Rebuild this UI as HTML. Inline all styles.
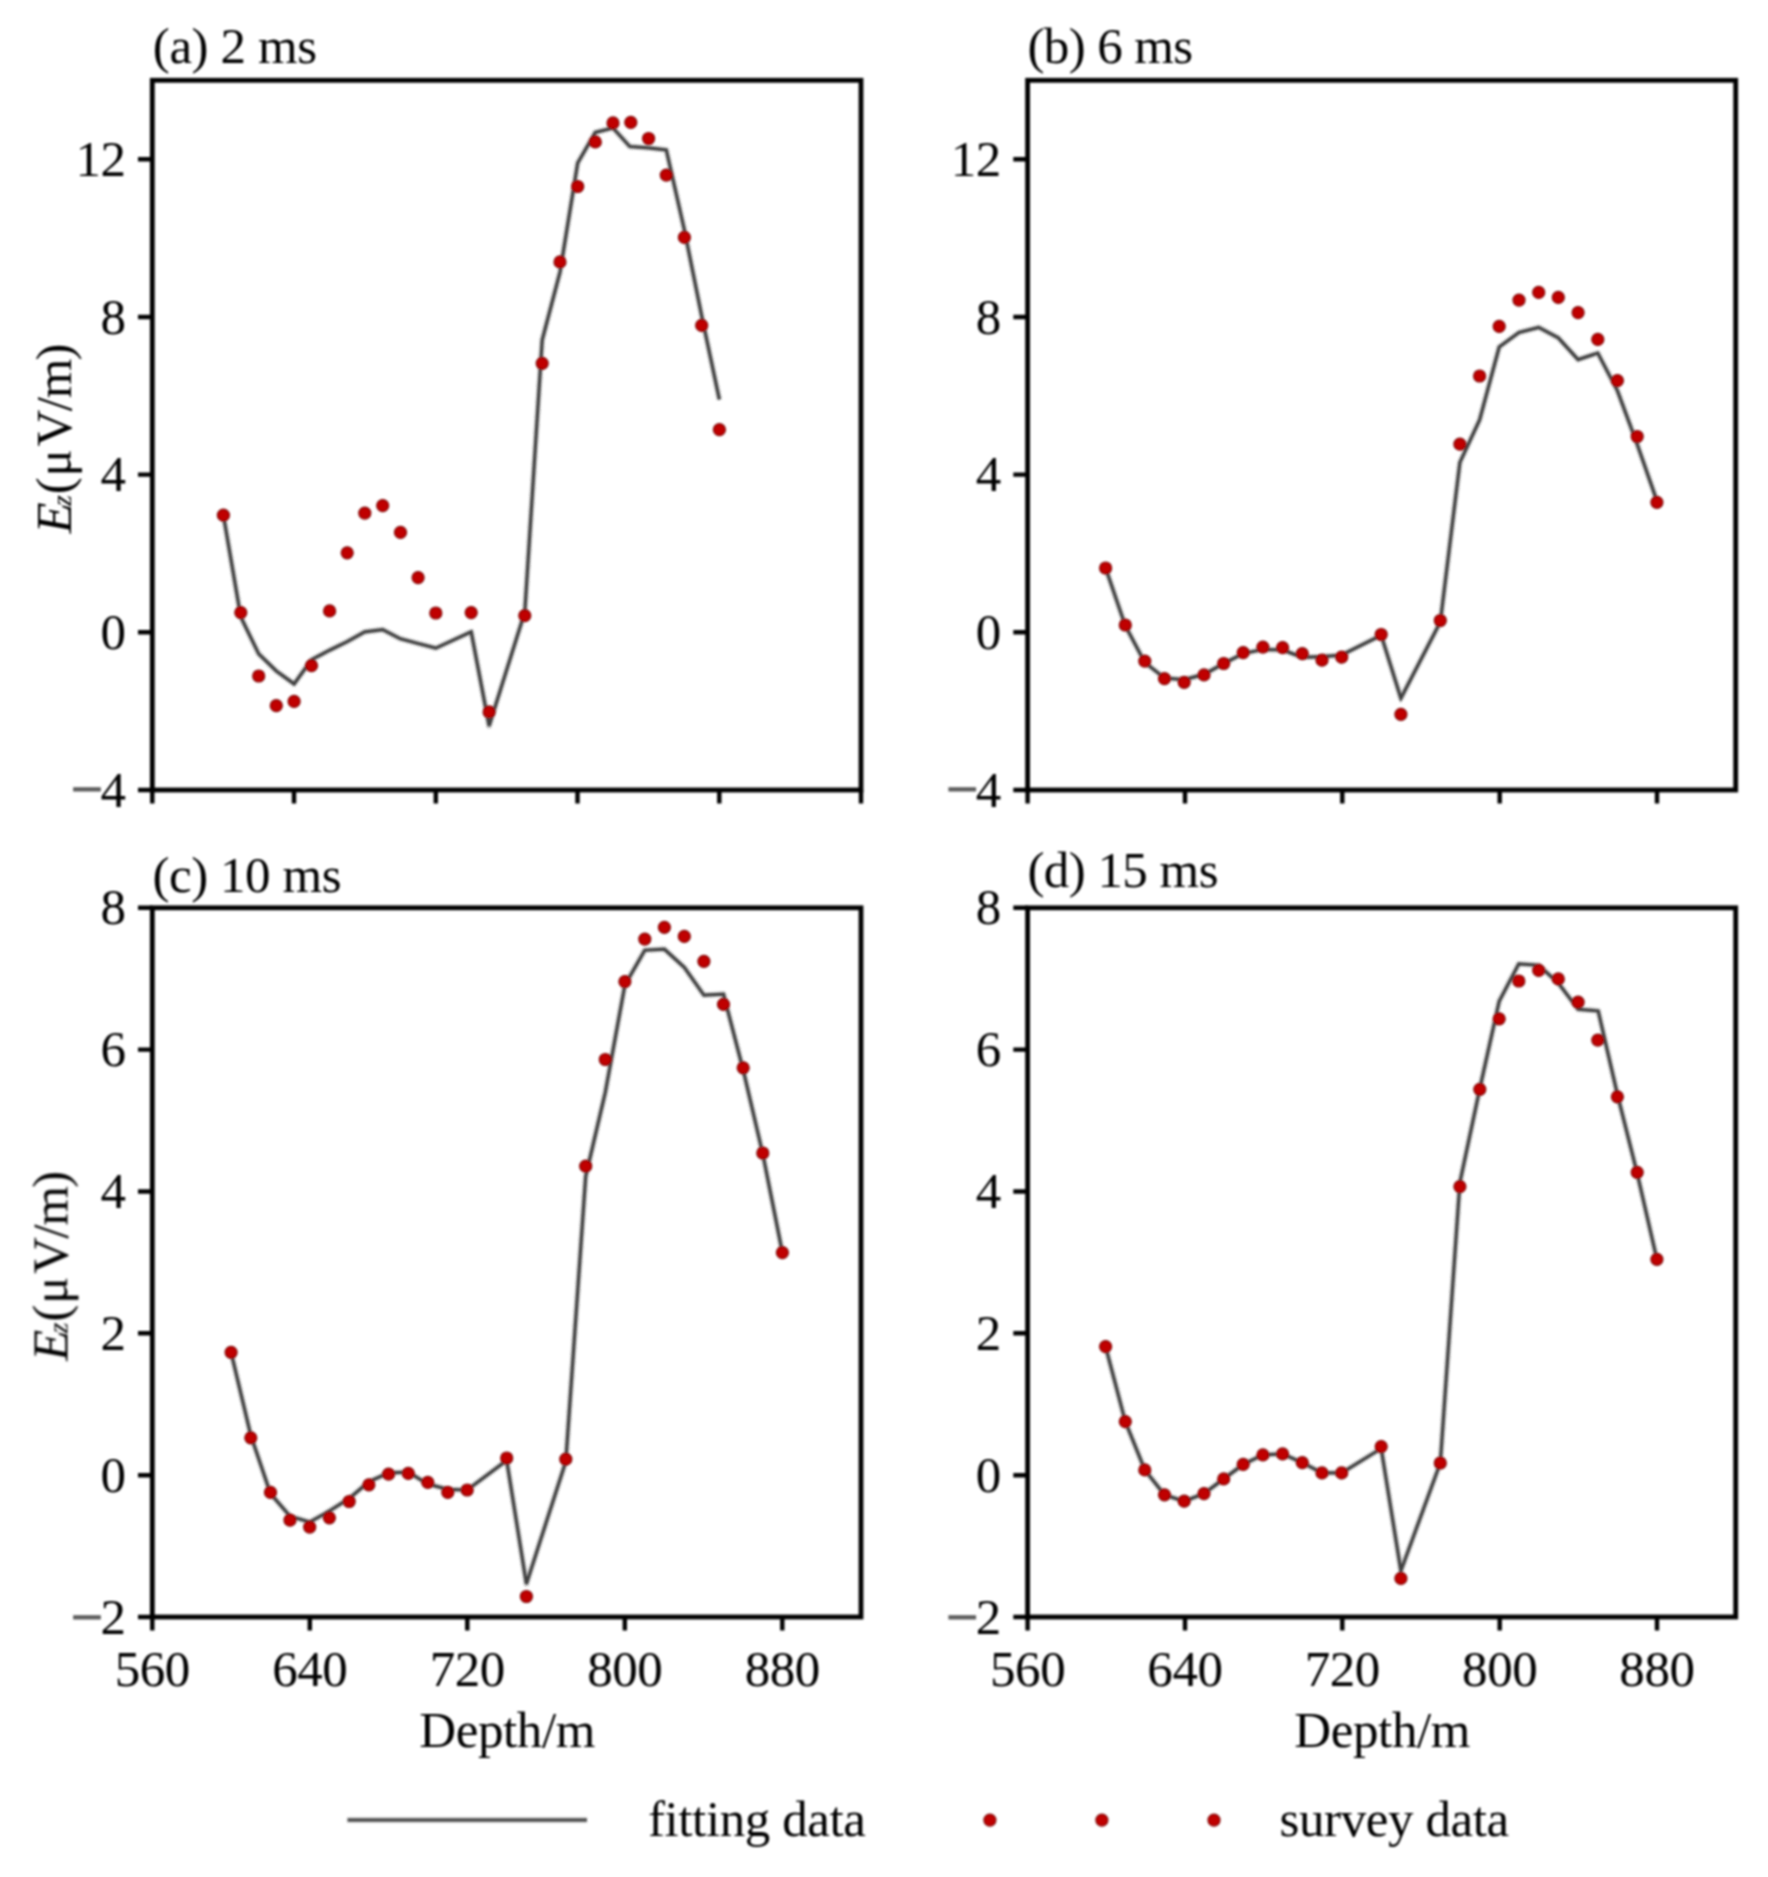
<!DOCTYPE html>
<html lang="en"><head><meta charset="utf-8"><title>Ez fitting vs survey data</title>
<style>
html,body{margin:0;padding:0;background:#fff;}
body{width:1768px;height:1877px;overflow:hidden;}
svg{display:block;position:absolute;left:0;top:0;}
text{font-family:"Liberation Serif","Times New Roman",serif;font-size:51px;fill:#000;letter-spacing:-0.4px;}
.ax{fill:none;stroke:#000;stroke-width:4.8;stroke-linejoin:miter;}
.tk{stroke:#000;stroke-width:4.4;fill:none;}
.ln{fill:none;stroke:#404040;stroke-width:3.2;stroke-linejoin:miter;stroke-linecap:butt;}
.lh{fill:none;stroke:#222;stroke-opacity:0.22;stroke-width:5.8;stroke-linejoin:round;}
.mn{fill:#5a5a5a;stroke:#5a5a5a;stroke-width:1.3;font-size:56.6px;}
.dt{fill:#c00000;stroke:#7a0000;stroke-width:1.2;}
</style></head><body>
<svg width="1768" height="1877" viewBox="0 0 1768 1877">
<rect width="1768" height="1877" fill="#fff"/>
<defs><filter id="soft" x="0" y="0" width="1768" height="1877" filterUnits="userSpaceOnUse"><feGaussianBlur stdDeviation="1.0"/></filter></defs>
<g filter="url(#soft)">

<g id="panel-a">
<rect class="ax" x="152.3" y="80.3" width="708.7" height="709.7"/>
<path class="tk" d="M152.3 790 v13.5 M294 790 v13.5 M435.8 790 v13.5 M577.5 790 v13.5 M719.3 790 v13.5 M861 790 v13.5 M152.3 790 h-14.3 M152.3 632.3 h-14.3 M152.3 474.6 h-14.3 M152.3 317 h-14.3 M152.3 159.3 h-14.3"/>
<text x="123.6" y="806.6" text-anchor="end"><tspan class="mn" dx="2.0" dy="1.5">−</tspan><tspan dx="-2.0" dy="-1.5">4</tspan></text>
<text x="125.6" y="648.9" text-anchor="end">0</text>
<text x="125.6" y="491.2" text-anchor="end">4</text>
<text x="125.6" y="333.6" text-anchor="end">8</text>
<text x="125.6" y="175.9" text-anchor="end">12</text>
<text x="152.8" y="63.2" style="letter-spacing:-0.4px">(a) 2 ms</text>
<polyline class="lh" points="223.4,515.2 240.8,617 258.7,653.9 276.3,671 294.1,683.9 311.5,659.7 329.6,650.2 347.2,641.6 364.8,631.9 382.7,629.6 400.5,638.8 418.1,643.5 435.8,648.1 471.2,631.9 489.1,725.9 524.8,612 542.2,340 560,272.1 577.7,163 595.3,132.4 613,128 629.8,146.5 648.6,147.9 666.3,149.9 684.4,230 701.7,316 719.4,399.7"/>
<polyline class="ln" points="223.4,515.2 240.8,617 258.7,653.9 276.3,671 294.1,683.9 311.5,659.7 329.6,650.2 347.2,641.6 364.8,631.9 382.7,629.6 400.5,638.8 418.1,643.5 435.8,648.1 471.2,631.9 489.1,725.9 524.8,612 542.2,340 560,272.1 577.7,163 595.3,132.4 613,128 629.8,146.5 648.6,147.9 666.3,149.9 684.4,230 701.7,316 719.4,399.7"/>
<circle class="dt" cx="223.4" cy="515.2" r="6.0"/>
<circle class="dt" cx="240.8" cy="612.6" r="6.0"/>
<circle class="dt" cx="258.7" cy="676" r="6.0"/>
<circle class="dt" cx="276.3" cy="705.7" r="6.0"/>
<circle class="dt" cx="294.1" cy="701.4" r="6.0"/>
<circle class="dt" cx="311.5" cy="665.7" r="6.0"/>
<circle class="dt" cx="329.6" cy="610.9" r="6.0"/>
<circle class="dt" cx="347.2" cy="552.8" r="6.0"/>
<circle class="dt" cx="364.8" cy="513.1" r="6.0"/>
<circle class="dt" cx="382.7" cy="505.6" r="6.0"/>
<circle class="dt" cx="400.5" cy="532.4" r="6.0"/>
<circle class="dt" cx="418.1" cy="577.6" r="6.0"/>
<circle class="dt" cx="435.8" cy="613" r="6.0"/>
<circle class="dt" cx="471.2" cy="612.6" r="6.0"/>
<circle class="dt" cx="489.1" cy="711.9" r="6.0"/>
<circle class="dt" cx="524.8" cy="615.6" r="6.0"/>
<circle class="dt" cx="542.2" cy="363.3" r="6.0"/>
<circle class="dt" cx="560" cy="261.9" r="6.0"/>
<circle class="dt" cx="577.7" cy="186.5" r="6.0"/>
<circle class="dt" cx="595.3" cy="141.9" r="6.0"/>
<circle class="dt" cx="613" cy="122.9" r="6.0"/>
<circle class="dt" cx="630.8" cy="122.4" r="6.0"/>
<circle class="dt" cx="648.6" cy="138.5" r="6.0"/>
<circle class="dt" cx="666.3" cy="175.1" r="6.0"/>
<circle class="dt" cx="684.4" cy="237.4" r="6.0"/>
<circle class="dt" cx="701.7" cy="325.4" r="6.0"/>
<circle class="dt" cx="719.4" cy="429.7" r="6.0"/>
</g>
<g id="panel-b">
<rect class="ax" x="1027.6" y="80.3" width="708.1" height="709.7"/>
<path class="tk" d="M1027.6 790 v13.5 M1185 790 v13.5 M1342.3 790 v13.5 M1499.7 790 v13.5 M1657 790 v13.5 M1027.6 790 h-14.3 M1027.6 632.3 h-14.3 M1027.6 474.6 h-14.3 M1027.6 317 h-14.3 M1027.6 159.3 h-14.3"/>
<text x="998.9" y="806.6" text-anchor="end"><tspan class="mn" dx="2.0" dy="1.5">−</tspan><tspan dx="-2.0" dy="-1.5">4</tspan></text>
<text x="1000.9" y="648.9" text-anchor="end">0</text>
<text x="1000.9" y="491.2" text-anchor="end">4</text>
<text x="1000.9" y="333.6" text-anchor="end">8</text>
<text x="1000.9" y="175.9" text-anchor="end">12</text>
<text x="1027.4" y="63.2" style="letter-spacing:-0.6px">(b) 6 ms</text>
<polyline class="lh" points="1105.6,568 1125.3,625.7 1144.8,662.5 1164.5,678 1184.2,679.6 1204,674.4 1223.7,663.5 1243.2,653.5 1262.9,649.5 1282.6,649.9 1302.3,657.3 1322,656.6 1341.7,655 1381.2,635.2 1400.9,698.2 1440.3,622.1 1459.9,462.4 1479.6,419.9 1499.2,347 1519,332.5 1538.7,327.4 1558.3,337.9 1578.1,359.6 1597.8,353.1 1617.4,390.6 1637.2,444.2 1656.9,500.9"/>
<polyline class="ln" points="1105.6,568 1125.3,625.7 1144.8,662.5 1164.5,678 1184.2,679.6 1204,674.4 1223.7,663.5 1243.2,653.5 1262.9,649.5 1282.6,649.9 1302.3,657.3 1322,656.6 1341.7,655 1381.2,635.2 1400.9,698.2 1440.3,622.1 1459.9,462.4 1479.6,419.9 1499.2,347 1519,332.5 1538.7,327.4 1558.3,337.9 1578.1,359.6 1597.8,353.1 1617.4,390.6 1637.2,444.2 1656.9,500.9"/>
<circle class="dt" cx="1105.6" cy="568" r="6.0"/>
<circle class="dt" cx="1125.3" cy="625" r="6.0"/>
<circle class="dt" cx="1144.8" cy="661.1" r="6.0"/>
<circle class="dt" cx="1164.5" cy="678.7" r="6.0"/>
<circle class="dt" cx="1184.2" cy="682.3" r="6.0"/>
<circle class="dt" cx="1204" cy="674.9" r="6.0"/>
<circle class="dt" cx="1223.7" cy="663.5" r="6.0"/>
<circle class="dt" cx="1243.2" cy="652.6" r="6.0"/>
<circle class="dt" cx="1262.9" cy="647.1" r="6.0"/>
<circle class="dt" cx="1282.6" cy="647.6" r="6.0"/>
<circle class="dt" cx="1302.3" cy="653.7" r="6.0"/>
<circle class="dt" cx="1322" cy="660.2" r="6.0"/>
<circle class="dt" cx="1341.7" cy="657.1" r="6.0"/>
<circle class="dt" cx="1381.2" cy="634.5" r="6.0"/>
<circle class="dt" cx="1400.9" cy="714.3" r="6.0"/>
<circle class="dt" cx="1440.3" cy="620.5" r="6.0"/>
<circle class="dt" cx="1459.9" cy="444.2" r="6.0"/>
<circle class="dt" cx="1479.6" cy="376" r="6.0"/>
<circle class="dt" cx="1499.2" cy="326.4" r="6.0"/>
<circle class="dt" cx="1519" cy="300.1" r="6.0"/>
<circle class="dt" cx="1538.7" cy="292.4" r="6.0"/>
<circle class="dt" cx="1558.3" cy="297.4" r="6.0"/>
<circle class="dt" cx="1578.1" cy="312.6" r="6.0"/>
<circle class="dt" cx="1597.8" cy="339.4" r="6.0"/>
<circle class="dt" cx="1617.4" cy="380.6" r="6.0"/>
<circle class="dt" cx="1637.2" cy="436.5" r="6.0"/>
<circle class="dt" cx="1656.9" cy="502.3" r="6.0"/>
</g>
<g id="panel-c">
<rect class="ax" x="152.3" y="907.8" width="708.7" height="709.2"/>
<path class="tk" d="M152.3 1617 v13.5 M309.8 1617 v13.5 M467.3 1617 v13.5 M624.8 1617 v13.5 M782.3 1617 v13.5 M152.3 1617 h-14.3 M152.3 1475.2 h-14.3 M152.3 1333.3 h-14.3 M152.3 1191.5 h-14.3 M152.3 1049.6 h-14.3 M152.3 907.8 h-14.3"/>
<text x="123.6" y="1633.6" text-anchor="end"><tspan class="mn" dx="2.0" dy="2.5">−</tspan><tspan dx="-2.0" dy="-2.5">2</tspan></text>
<text x="125.6" y="1491.8" text-anchor="end">0</text>
<text x="125.6" y="1349.9" text-anchor="end">2</text>
<text x="125.6" y="1208.1" text-anchor="end">4</text>
<text x="125.6" y="1066.2" text-anchor="end">6</text>
<text x="125.6" y="924.4" text-anchor="end">8</text>
<text x="152.3" y="1686" text-anchor="middle">560</text>
<text x="309.8" y="1686" text-anchor="middle">640</text>
<text x="467.3" y="1686" text-anchor="middle">720</text>
<text x="624.8" y="1686" text-anchor="middle">800</text>
<text x="782.3" y="1686" text-anchor="middle">880</text>
<text x="507.1" y="1747" text-anchor="middle">Depth/m</text>
<text x="152.5" y="891.7" style="letter-spacing:-0.45px">(c) 10 ms</text>
<polyline class="lh" points="231.1,1352.3 250.8,1435.4 270.5,1493.6 290,1516.2 309.7,1522.1 329.4,1511 349.2,1498.4 368.9,1481.7 388.6,1472.9 408.3,1472.2 427.8,1484.1 447.8,1489.3 467.2,1490 506.7,1460.4 526.4,1583.9 565.8,1461.5 585.7,1176.3 605.3,1092.3 624.9,985 644.8,950.2 664.4,949.2 684.3,967.4 703.9,995.1 723.5,994.1 743.2,1070 762.8,1154 782.4,1252.6"/>
<polyline class="ln" points="231.1,1352.3 250.8,1435.4 270.5,1493.6 290,1516.2 309.7,1522.1 329.4,1511 349.2,1498.4 368.9,1481.7 388.6,1472.9 408.3,1472.2 427.8,1484.1 447.8,1489.3 467.2,1490 506.7,1460.4 526.4,1583.9 565.8,1461.5 585.7,1176.3 605.3,1092.3 624.9,985 644.8,950.2 664.4,949.2 684.3,967.4 703.9,995.1 723.5,994.1 743.2,1070 762.8,1154 782.4,1252.6"/>
<circle class="dt" cx="231.1" cy="1352.3" r="6.0"/>
<circle class="dt" cx="250.8" cy="1437.8" r="6.0"/>
<circle class="dt" cx="270.5" cy="1492.4" r="6.0"/>
<circle class="dt" cx="290" cy="1520.2" r="6.0"/>
<circle class="dt" cx="309.7" cy="1527.1" r="6.0"/>
<circle class="dt" cx="329.4" cy="1517.8" r="6.0"/>
<circle class="dt" cx="349.2" cy="1501.5" r="6.0"/>
<circle class="dt" cx="368.9" cy="1484.8" r="6.0"/>
<circle class="dt" cx="388.6" cy="1474.1" r="6.0"/>
<circle class="dt" cx="408.3" cy="1473.4" r="6.0"/>
<circle class="dt" cx="427.8" cy="1482.4" r="6.0"/>
<circle class="dt" cx="447.8" cy="1492.4" r="6.0"/>
<circle class="dt" cx="467.2" cy="1490" r="6.0"/>
<circle class="dt" cx="506.7" cy="1458" r="6.0"/>
<circle class="dt" cx="526.4" cy="1596.5" r="6.0"/>
<circle class="dt" cx="565.8" cy="1459.2" r="6.0"/>
<circle class="dt" cx="585.7" cy="1166.2" r="6.0"/>
<circle class="dt" cx="605.3" cy="1059.5" r="6.0"/>
<circle class="dt" cx="624.9" cy="981.6" r="6.0"/>
<circle class="dt" cx="644.8" cy="939.1" r="6.0"/>
<circle class="dt" cx="664.4" cy="927.3" r="6.0"/>
<circle class="dt" cx="684.3" cy="936.4" r="6.0"/>
<circle class="dt" cx="703.9" cy="961.3" r="6.0"/>
<circle class="dt" cx="723.5" cy="1004.3" r="6.0"/>
<circle class="dt" cx="743.2" cy="1067.8" r="6.0"/>
<circle class="dt" cx="762.8" cy="1153" r="6.0"/>
<circle class="dt" cx="782.4" cy="1252.6" r="6.0"/>
</g>
<g id="panel-d">
<rect class="ax" x="1027.6" y="907.8" width="708.1" height="709.2"/>
<path class="tk" d="M1027.6 1617 v13.5 M1185 1617 v13.5 M1342.3 1617 v13.5 M1499.7 1617 v13.5 M1657 1617 v13.5 M1027.6 1617 h-14.3 M1027.6 1475.2 h-14.3 M1027.6 1333.3 h-14.3 M1027.6 1191.5 h-14.3 M1027.6 1049.6 h-14.3 M1027.6 907.8 h-14.3"/>
<text x="998.9" y="1633.6" text-anchor="end"><tspan class="mn" dx="2.0" dy="2.5">−</tspan><tspan dx="-2.0" dy="-2.5">2</tspan></text>
<text x="1000.9" y="1491.8" text-anchor="end">0</text>
<text x="1000.9" y="1349.9" text-anchor="end">2</text>
<text x="1000.9" y="1208.1" text-anchor="end">4</text>
<text x="1000.9" y="1066.2" text-anchor="end">6</text>
<text x="1000.9" y="924.4" text-anchor="end">8</text>
<text x="1027.6" y="1686" text-anchor="middle">560</text>
<text x="1185" y="1686" text-anchor="middle">640</text>
<text x="1342.3" y="1686" text-anchor="middle">720</text>
<text x="1499.7" y="1686" text-anchor="middle">800</text>
<text x="1657" y="1686" text-anchor="middle">880</text>
<text x="1382.2" y="1747" text-anchor="middle">Depth/m</text>
<text x="1027.4" y="887.4" style="letter-spacing:-0.55px">(d) 15 ms</text>
<polyline class="lh" points="1105.6,1346.6 1125.3,1421.6 1144.8,1469.9 1164.5,1494.8 1184.2,1501.2 1204,1493.6 1223.7,1478.9 1243.2,1464.4 1262.9,1454.9 1282.6,1453.9 1302.3,1462.7 1322,1472.9 1341.7,1472.9 1381.2,1448.5 1400.9,1570.8 1440.3,1463 1459.9,1182.4 1479.8,1088.7 1499.2,1001.2 1518.8,963.8 1538.7,965.2 1558.3,983 1578.1,1009.3 1598.2,1010.9 1617.4,1094.3 1637.2,1173.3 1656.9,1259.3"/>
<polyline class="ln" points="1105.6,1346.6 1125.3,1421.6 1144.8,1469.9 1164.5,1494.8 1184.2,1501.2 1204,1493.6 1223.7,1478.9 1243.2,1464.4 1262.9,1454.9 1282.6,1453.9 1302.3,1462.7 1322,1472.9 1341.7,1472.9 1381.2,1448.5 1400.9,1570.8 1440.3,1463 1459.9,1182.4 1479.8,1088.7 1499.2,1001.2 1518.8,963.8 1538.7,965.2 1558.3,983 1578.1,1009.3 1598.2,1010.9 1617.4,1094.3 1637.2,1173.3 1656.9,1259.3"/>
<circle class="dt" cx="1105.6" cy="1346.6" r="6.0"/>
<circle class="dt" cx="1125.3" cy="1421.6" r="6.0"/>
<circle class="dt" cx="1144.8" cy="1469.9" r="6.0"/>
<circle class="dt" cx="1164.5" cy="1494.8" r="6.0"/>
<circle class="dt" cx="1184.2" cy="1501.2" r="6.0"/>
<circle class="dt" cx="1204" cy="1493.6" r="6.0"/>
<circle class="dt" cx="1223.7" cy="1478.9" r="6.0"/>
<circle class="dt" cx="1243.2" cy="1464.4" r="6.0"/>
<circle class="dt" cx="1262.9" cy="1454.9" r="6.0"/>
<circle class="dt" cx="1282.6" cy="1453.9" r="6.0"/>
<circle class="dt" cx="1302.3" cy="1462.7" r="6.0"/>
<circle class="dt" cx="1322" cy="1472.9" r="6.0"/>
<circle class="dt" cx="1341.7" cy="1472.9" r="6.0"/>
<circle class="dt" cx="1381.2" cy="1446.6" r="6.0"/>
<circle class="dt" cx="1400.9" cy="1578.4" r="6.0"/>
<circle class="dt" cx="1440.3" cy="1463" r="6.0"/>
<circle class="dt" cx="1459.9" cy="1186.6" r="6.0"/>
<circle class="dt" cx="1479.8" cy="1089.3" r="6.0"/>
<circle class="dt" cx="1499.2" cy="1018.8" r="6.0"/>
<circle class="dt" cx="1518.8" cy="981" r="6.0"/>
<circle class="dt" cx="1538.7" cy="970.4" r="6.0"/>
<circle class="dt" cx="1558.3" cy="978.9" r="6.0"/>
<circle class="dt" cx="1578.1" cy="1002.2" r="6.0"/>
<circle class="dt" cx="1597.8" cy="1040.1" r="6.0"/>
<circle class="dt" cx="1617.4" cy="1096.8" r="6.0"/>
<circle class="dt" cx="1637.2" cy="1172.3" r="6.0"/>
<circle class="dt" cx="1656.9" cy="1259.3" r="6.0"/>
</g>
<text transform="translate(71,440) rotate(-90)"><tspan x="-93.4" font-style="italic">E</tspan><tspan x="-65.9" style="font-style:italic;font-size:28px">z</tspan><tspan x="-54.2">(</tspan><tspan x="-36.6">μ</tspan><tspan x="-6.55">V</tspan><tspan x="28.7">/</tspan><tspan x="41.85">m</tspan><tspan x="79.4">)</tspan></text>
<text transform="translate(67.5,1267.4) rotate(-90)"><tspan x="-93.4" font-style="italic">E</tspan><tspan x="-65.9" style="font-style:italic;font-size:28px">z</tspan><tspan x="-54.2">(</tspan><tspan x="-36.6">μ</tspan><tspan x="-6.55">V</tspan><tspan x="28.7">/</tspan><tspan x="41.85">m</tspan><tspan x="79.4">)</tspan></text>
<g id="legend">
<path class="lh" d="M347.5 1820 H587"/>
<path class="ln" d="M347.5 1820 H587"/>
<circle class="dt" cx="989.9" cy="1820.1" r="6.0"/>
<circle class="dt" cx="1101.9" cy="1820.1" r="6.0"/>
<circle class="dt" cx="1214" cy="1820.1" r="6.0"/>
<text x="648" y="1836">fitting data</text>
<text x="1279.5" y="1835.5">survey data</text>
</g>
</g></svg></body></html>
